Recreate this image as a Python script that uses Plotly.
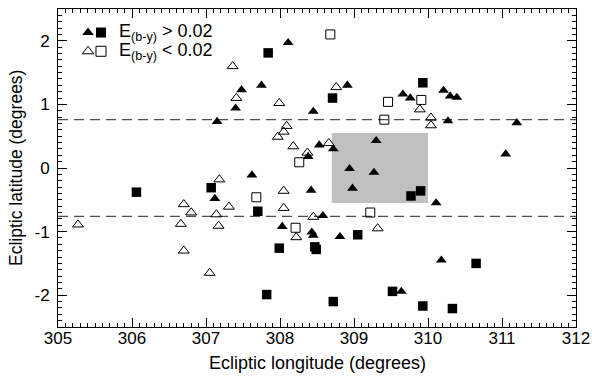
import plotly.graph_objects as go

# Filled triangles: E(b-y) > 0.02
ft_lon = [307.15, 307.48, 307.75, 307.40, 308.11, 308.45, 308.91, 309.66, 309.76, 310.21,
          310.30, 310.39, 310.27, 311.20, 311.05, 308.53, 308.72, 308.38, 309.30, 308.94,
          309.27, 308.98, 310.11, 307.62, 307.12, 308.42, 308.58, 308.03, 308.43, 308.45,
          308.81, 310.18, 309.64]
ft_lat = [0.73, 1.23, 1.30, 0.94, 1.97, 0.89, 1.30, 1.16, 1.10, 1.22,
          1.13, 1.11, 0.74, 0.71, 0.22, 0.36, 0.30, 0.18, 0.43, -0.01,
          -0.07, -0.32, -0.55, -0.11, -0.48, -0.35, -0.75, -0.92, -1.01, -1.06,
          -1.08, -1.45, -1.94]

# Filled squares: E(b-y) > 0.02
fs_lon = [307.84, 308.71, 309.93, 306.06, 307.07, 307.70, 309.77, 309.90, 307.99, 308.47,
          308.49, 309.05, 310.65, 307.82, 308.72, 309.52, 309.93, 310.33]
fs_lat = [1.81, 1.10, 1.34, -0.38, -0.31, -0.68, -0.44, -0.36, -1.26, -1.24,
          -1.28, -1.05, -1.50, -1.99, -2.10, -1.94, -2.17, -2.21]

# Open triangles: E(b-y) < 0.02
ot_lon = [307.36, 307.41, 307.99, 308.76, 309.89, 310.04, 310.04, 308.09, 308.05, 307.97,
          308.18, 308.66, 308.37, 307.18, 308.05, 307.31, 307.14, 308.05, 307.17, 308.22,
          308.45, 309.32, 305.27, 306.70, 306.80, 306.66, 306.70, 307.05]
ot_lat = [1.60, 1.10, 1.02, 1.27, 0.92, 0.79, 0.67, 0.66, 0.57, 0.49,
          0.34, 0.39, 0.24, -0.18, -0.36, -0.61, -0.73, -0.63, -0.91, -1.09,
          -0.77, -0.95, -0.89, -0.57, -0.70, -0.88, -1.30, -1.65]

# Open squares: E(b-y) < 0.02
os_lon = [308.68, 309.46, 309.91, 309.41, 308.26, 307.68, 308.21, 309.22]
os_lat = [2.10, 1.04, 1.07, 0.76, 0.09, -0.46, -0.94, -0.70]

box_lon = [308.7, 310.0]
box_lat = [-0.55, 0.55]
dash_lat = [0.76, -0.76]

x_ticks = [305, 306, 307, 308, 309, 310, 311, 312]
y_ticks = [-2, -1, 0, 1, 2]
y_ticktext = ["-2", "-1", "0", "1", "2"]

legend_labels = ["E<sub>(b-y)</sub> > 0.02", "E<sub>(b-y)</sub> < 0.02"]
x_title = "Ecliptic longitude (degrees)"
y_title = "Ecliptic latitude (degrees)"

FONT = "Liberation Sans, Arial, Helvetica, sans-serif"

fig = go.Figure()

fig.add_shape(type="rect", xref="x", yref="y",
              x0=box_lon[0], x1=box_lon[1], y0=box_lat[0], y1=box_lat[1],
              fillcolor="#c0c0c0", line=dict(width=0), layer="below")
for yv in dash_lat:
    fig.add_shape(type="line", xref="paper", yref="y", x0=0, x1=1, y0=yv, y1=yv,
                  line=dict(color="#4d4d4d", width=1.2, dash="10px,6px"), layer="below")

fig.add_trace(go.Scatter(x=ft_lon, y=ft_lat, mode="markers",
                         marker=dict(symbol="triangle-up", size=9.5, color="black", line=dict(width=0))))
fig.add_trace(go.Scatter(x=fs_lon, y=fs_lat, mode="markers",
                         marker=dict(symbol="square", size=9.5, color="black", line=dict(width=0))))
fig.add_trace(go.Scatter(x=ot_lon, y=ot_lat, mode="markers",
                         marker=dict(symbol="triangle-up-open", size=9.5, color="black", line=dict(width=1))))
fig.add_trace(go.Scatter(x=os_lon, y=os_lat, mode="markers",
                         marker=dict(symbol="square-open", size=9, color="black", line=dict(width=1))))

# legend keys on an overlay axis spanning the plot area
fig.add_trace(go.Scatter(x=[0.058, 0.083], y=[0.926, 0.926], mode="markers", xaxis="x2", yaxis="y2",
                         marker=dict(symbol=["triangle-up", "square"], size=10, color="black", line=dict(width=0))))
fig.add_trace(go.Scatter(x=[0.058, 0.083], y=[0.867, 0.867], mode="markers", xaxis="x2", yaxis="y2",
                         marker=dict(symbol=["triangle-up-open", "square-open"], size=10, color="black", line=dict(width=1))))

for i, lab in enumerate(legend_labels):
    fig.add_annotation(x=0.114, y=0.926 - 0.059 * i, xref="paper", yref="paper", text=lab,
                       showarrow=False, xanchor="left", yanchor="middle",
                       font=dict(family=FONT, size=18, color="black"))

fig.add_annotation(x=0.5, y=-0.113, xref="paper", yref="paper", text=x_title,
                   showarrow=False, xanchor="center", yanchor="middle",
                   font=dict(family=FONT, size=18, color="black"))
fig.add_annotation(x=-0.081, y=0.5, xref="paper", yref="paper", text=y_title, textangle=-90,
                   showarrow=False, xanchor="center", yanchor="middle",
                   font=dict(family=FONT, size=17.5, color="black"))

axis_common = dict(showline=True, mirror="ticks", linecolor="black", linewidth=1,
                   ticks="inside", ticklen=9, tickcolor="black", tickwidth=1,
                   showgrid=False, zeroline=False, automargin=False,
                   tickfont=dict(family=FONT, size=17, color="black"),
                   minor=dict(ticks="inside", ticklen=4, dtick=0.1, tickcolor="black", showgrid=False))

fig.update_layout(
    width=592, height=377,
    margin=dict(l=58, r=16, t=9, b=50),
    paper_bgcolor="white", plot_bgcolor="white",
    showlegend=False,
    hovermode=False,
    xaxis=dict(range=[305, 312], tickvals=x_ticks, ticktext=[str(v) for v in x_ticks],
               ticklabelstandoff=-4, ticklabeloverflow="allow", **axis_common),
    yaxis=dict(range=[-2.5, 2.5], tickvals=y_ticks, ticktext=y_ticktext,
               ticklabelstandoff=4, **axis_common),
    xaxis2=dict(range=[0, 1], overlaying="x", visible=False, fixedrange=True),
    yaxis2=dict(range=[0, 1], overlaying="y", visible=False, fixedrange=True),
)

# remove the default page margin so the 592x377 figure fills the window exactly
fig.write_html("out.html", config={"displayModeBar": False},
               post_script="document.body.style.margin='0';document.body.style.overflow='hidden';")
